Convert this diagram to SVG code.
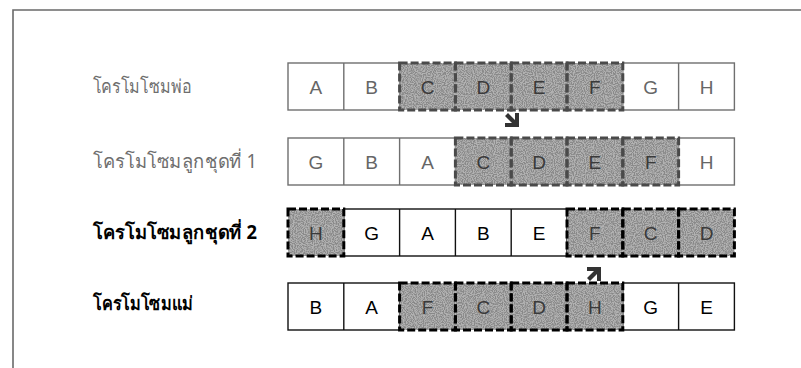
<svg xmlns="http://www.w3.org/2000/svg" width="801" height="368" viewBox="0 0 801 368">
<defs>
<style>
.frame{fill:none;stroke:#6a6a6a;stroke-width:1.6}
.lbl{font-family:"Noto Sans","DejaVu Sans",sans-serif;font-size:19px}
.lg{fill:#6e6e6e}
.lk{fill:#000;font-weight:bold}
.cell{fill:#fff;stroke-width:1.4}
.cg{stroke:#6f6f6f}
.ck{stroke:#111}
.shade{fill:#b2b2b2}
.dash{fill:none;stroke-width:3;stroke-dasharray:8 3}
.dg{stroke:#4a4a4a}
.dk{stroke:#000}
.t{font-family:"Liberation Sans",Arial,sans-serif;font-size:19px;text-anchor:middle}
.tg{fill:#666}
.tk{fill:#000}
.ts{fill:#3a3a3a}
.arr{fill:#333}
</style>
<filter id="grain" x="0" y="0" width="1" height="1">
<feTurbulence type="fractalNoise" baseFrequency="0.9" numOctaves="1" seed="4" result="n"/>
<feColorMatrix in="n" type="matrix" values="0 0 0 0 0.25  0 0 0 0 0.25  0 0 0 0 0.25  5 0 0 0 -2" result="s"/>
<feComposite in="s" in2="SourceGraphic" operator="in" result="sp"/>
<feMerge><feMergeNode in="SourceGraphic"/><feMergeNode in="sp"/></feMerge>
</filter>
</defs>
<rect width="801" height="368" fill="#fff"/>
<path class="frame" d="M13,368 V10 H801"/>

<!-- Row 1: father -->
<g id="father">
<text class="lbl lg" x="93" y="93" textLength="98" lengthAdjust="spacingAndGlyphs">โครโมโซมพ่อ</text>
<rect class="cell cg" x="288" y="63" width="111.6" height="47"/>
<line class="cell cg" x1="343.8" y1="63" x2="343.8" y2="110"/>
<rect class="cell cg" x="622.8" y="63" width="111.6" height="47"/>
<line class="cell cg" x1="678.6" y1="63" x2="678.6" y2="110"/>
<g filter="url(#grain)">
<rect class="shade" x="399.6" y="63" width="223.2" height="47"/>
</g>
<rect class="dash dg" x="399.6" y="63" width="55.8" height="47"/>
<rect class="dash dg" x="455.4" y="63" width="55.8" height="47"/>
<rect class="dash dg" x="511.2" y="63" width="55.8" height="47"/>
<rect class="dash dg" x="567" y="63" width="55.8" height="47"/>
<g class="t tg">
<text x="315.9" y="93.5">A</text><text x="371.7" y="93.5">B</text>
<text x="650.7" y="93.5">G</text><text x="706.5" y="93.5">H</text>
</g>
<g class="t ts">
<text x="427.5" y="93.5">C</text><text x="483.3" y="93.5">D</text>
<text x="539.1" y="93.5">E</text><text x="594.9" y="93.5">F</text>
</g>
</g>

<!-- Row 2: child 1 -->
<g id="child1">
<text class="lbl lg" x="93" y="168" textLength="164" lengthAdjust="spacingAndGlyphs">โครโมโซมลูกชุดที่ 1</text>
<rect class="cell cg" x="288" y="138" width="167.4" height="47"/>
<line class="cell cg" x1="343.8" y1="138" x2="343.8" y2="185"/>
<line class="cell cg" x1="399.6" y1="138" x2="399.6" y2="185"/>
<rect class="cell cg" x="678.6" y="138" width="55.8" height="47"/>
<g filter="url(#grain)">
<rect class="shade" x="455.4" y="138" width="223.2" height="47"/>
</g>
<rect class="dash dg" x="455.4" y="138" width="55.8" height="47"/>
<rect class="dash dg" x="511.2" y="138" width="55.8" height="47"/>
<rect class="dash dg" x="567" y="138" width="55.8" height="47"/>
<rect class="dash dg" x="622.8" y="138" width="55.8" height="47"/>
<g class="t tg">
<text x="315.9" y="168.5">G</text><text x="371.7" y="168.5">B</text><text x="427.5" y="168.5">A</text>
<text x="706.5" y="168.5">H</text>
</g>
<g class="t ts">
<text x="483.3" y="168.5">C</text><text x="539.1" y="168.5">D</text>
<text x="594.9" y="168.5">E</text><text x="650.7" y="168.5">F</text>
</g>
</g>

<!-- Row 3: child 2 -->
<g id="child2">
<text class="lbl lk" x="93" y="239" textLength="164" lengthAdjust="spacingAndGlyphs">โครโมโซมลูกชุดที่ 2</text>
<rect class="cell ck" x="343.8" y="209" width="223.2" height="47"/>
<line class="cell ck" x1="399.6" y1="209" x2="399.6" y2="256"/>
<line class="cell ck" x1="455.4" y1="209" x2="455.4" y2="256"/>
<line class="cell ck" x1="511.2" y1="209" x2="511.2" y2="256"/>
<g filter="url(#grain)">
<rect class="shade" x="288" y="209" width="55.8" height="47"/>
<rect class="shade" x="567" y="209" width="167.4" height="47"/>
</g>
<rect class="dash dk" x="288" y="209" width="55.8" height="47"/>
<rect class="dash dk" x="567" y="209" width="55.8" height="47"/>
<rect class="dash dk" x="622.8" y="209" width="55.8" height="47"/>
<rect class="dash dk" x="678.6" y="209" width="55.8" height="47"/>
<g class="t tk">
<text x="371.7" y="239.5">G</text><text x="427.5" y="239.5">A</text>
<text x="483.3" y="239.5">B</text><text x="539.1" y="239.5">E</text>
</g>
<g class="t ts">
<text x="315.9" y="239.5">H</text>
<text x="594.9" y="239.5">F</text><text x="650.7" y="239.5">C</text><text x="706.5" y="239.5">D</text>
</g>
</g>

<!-- Row 4: mother -->
<g id="mother">
<text class="lbl lk" x="93" y="310" textLength="100" lengthAdjust="spacingAndGlyphs">โครโมโซมแม่</text>
<rect class="cell ck" x="288" y="283" width="111.6" height="47"/>
<line class="cell ck" x1="343.8" y1="283" x2="343.8" y2="330"/>
<rect class="cell ck" x="622.8" y="283" width="111.6" height="47"/>
<line class="cell ck" x1="678.6" y1="283" x2="678.6" y2="330"/>
<g filter="url(#grain)">
<rect class="shade" x="399.6" y="283" width="223.2" height="47"/>
</g>
<rect class="dash dk" x="399.6" y="283" width="55.8" height="47"/>
<rect class="dash dk" x="455.4" y="283" width="55.8" height="47"/>
<rect class="dash dk" x="511.2" y="283" width="55.8" height="47"/>
<rect class="dash dk" x="567" y="283" width="55.8" height="47"/>
<g class="t tk">
<text x="315.9" y="313.5">B</text><text x="371.7" y="313.5">A</text>
<text x="650.7" y="313.5">G</text><text x="706.5" y="313.5">E</text>
</g>
<g class="t ts">
<text x="427.5" y="313.5">F</text><text x="483.3" y="313.5">C</text>
<text x="539.1" y="313.5">D</text><text x="594.9" y="313.5">H</text>
</g>
</g>

<!-- Connectors -->
<g id="connectors">
<polygon class="arr" points="0,-3 7,4 7,-3 11,-3 11,11 -3,11 -3,7 4,7 -3,0" transform="translate(508,116)"/>
<polygon class="arr" points="0,3 7,-4 7,3 11,3 11,-11 -3,-11 -3,-7 4,-7 -3,0" transform="translate(590,278)"/>
</g>
</svg>
